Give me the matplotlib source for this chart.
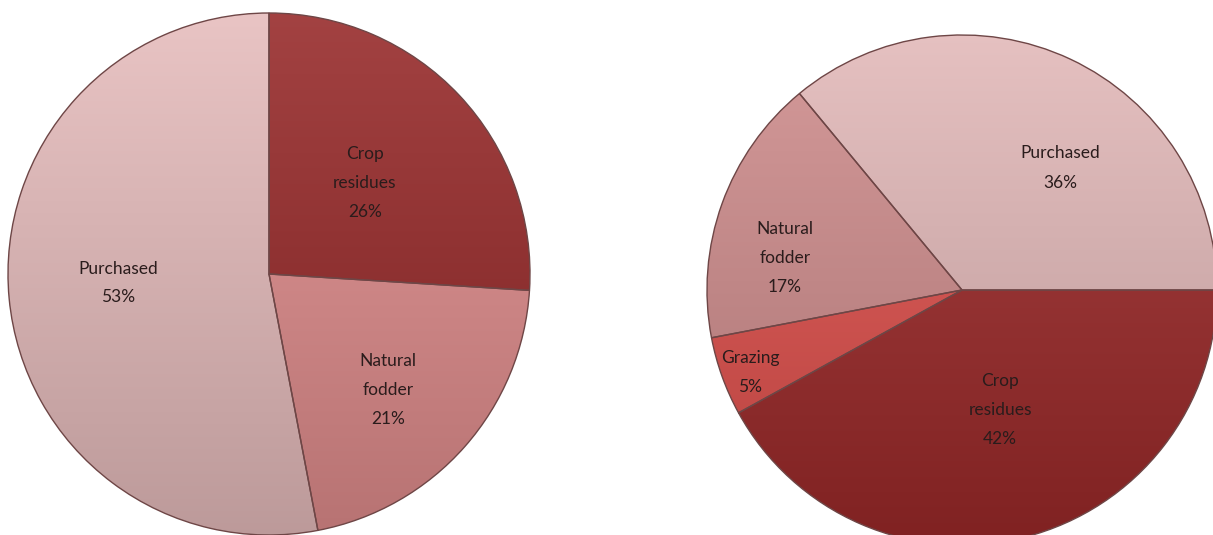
import matplotlib.pyplot as plt
import matplotlib.colors as mcolors
import numpy as np

# left pie
left_labels = ['Crop\nresidues', 'Natural\nfodder', 'Purchased']
left_values = [26, 21, 53]
left_colors = ['#962828', '#e08c8c', '#e6bcbc']

# right pie
right_labels = ['Crop\nresidues', 'Grazing', 'Natural\nfodder', 'Purchased']
right_values = [42, 5, 17, 36]
right_colors = ['#9c2929', '#e0504c', '#cf8c8c', '#e2b8b8']

W, H = 1213, 535
fig = plt.figure(figsize=(W / 100, H / 100), dpi=100)
plt.rcParams['font.family'] = ['Lato', 'DejaVu Sans']


def shade(c, f):
    r, g, b = mcolors.to_rgb(c)
    if f >= 0:
        return (r + (1 - r) * f, g + (1 - g) * f, b + (1 - b) * f)
    return (r * (1 + f), g * (1 + f), b * (1 + f))


def draw_pie(cx, cy, r, values, labels, colors, start, label_pos):
    ax = fig.add_axes([(cx - r) / W, (cy - r) / H, 2 * r / W, 2 * r / H])
    wedges, _ = ax.pie(values, colors=colors, startangle=start, counterclock=False,
                       radius=1, wedgeprops=dict(edgecolor='#6e4646', linewidth=1.0))
    ax.set_xlim(-1, 1)
    ax.set_ylim(-1, 1)
    ax.axis('off')
    # vertical light-to-dark gradient inside each wedge
    for w, c in zip(wedges, colors):
        grad = np.linspace(0, 1, 256).reshape(-1, 1)
        top, bot = np.array(shade(c, 0.12)), np.array(shade(c, -0.18))
        img = top + (bot - top) * grad[..., None]
        im = ax.imshow(img, extent=[-1, 1, -1, 1], origin='upper', aspect='auto', zorder=1.5)
        im.set_clip_path(w)
        w.set_facecolor('none')
        w.set_zorder(2)
        w.set_clip_on(False)
    ax.set_xlim(-1, 1)
    ax.set_ylim(-1, 1)
    total = sum(values)
    for lab, v, (x, y) in zip(labels, values, label_pos):
        ax.text(x, y, f'{lab}\n{round(100 * v / total)}%', ha='center', va='center',
                fontsize=12.5, color='#2a1c1c', linespacing=2.0, zorder=3)
    return ax


# label centres in pie units (x, y)
left_pos = [(96 / 261, 91 / 261), (119 / 261, -116 / 261), (-151 / 261, -9 / 261)]
right_pos = [(38 / 255, -120 / 255), (-212 / 255, -82 / 255), (-177 / 255, 32 / 255), (98 / 255, 122 / 255)]

draw_pie(269, H - 274, 261, left_values, left_labels, left_colors, 90, left_pos)
draw_pie(962, H - 290, 255, right_values, right_labels, right_colors, 0, right_pos)

fig.savefig('out.png', dpi=100)
